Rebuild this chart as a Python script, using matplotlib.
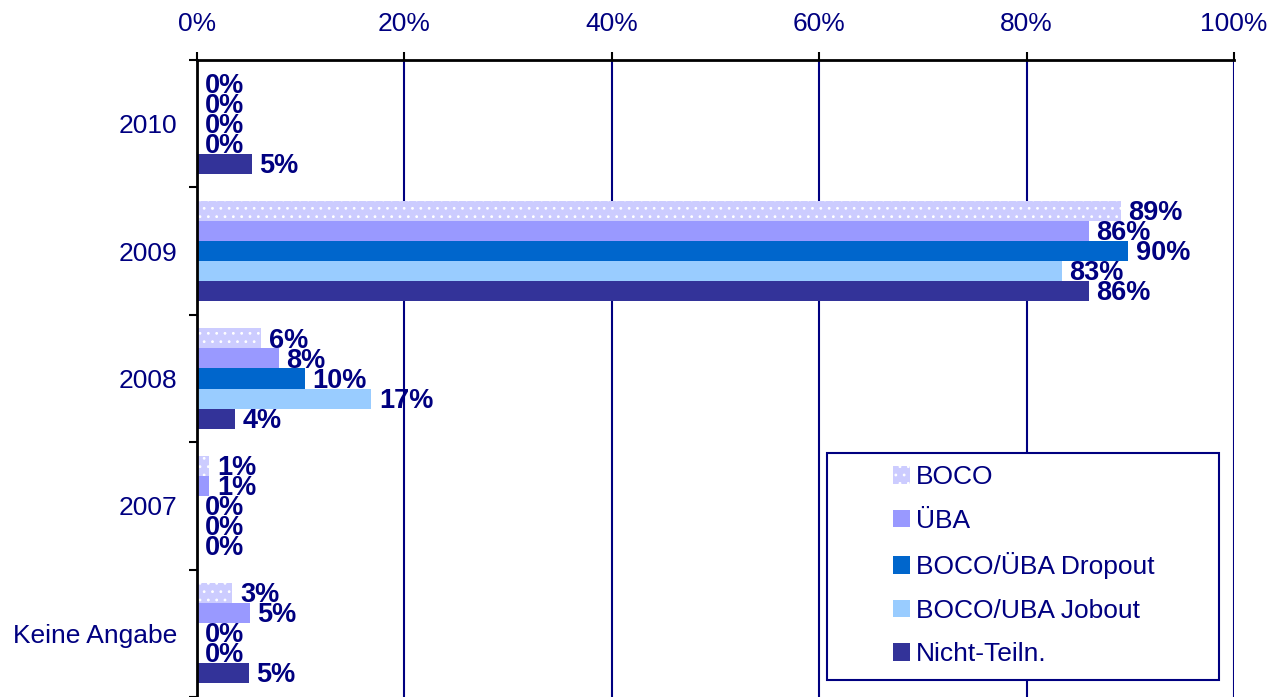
import numpy as np
import matplotlib.pyplot as plt
from matplotlib.patches import Patch, Rectangle

plt.rcParams['font.family'] = ['Liberation Sans', 'DejaVu Sans']
plt.rcParams['hatch.linewidth'] = 0.8

categories = ['2010', '2009', '2008', '2007', 'Keine Angabe']
series = ['BOCO', 'ÜBA', 'BOCO/ÜBA Dropout', 'BOCO/UBA Jobout', 'Nicht-Teiln.']
boco = [0, 89.1, 6.2, 1.2, 3.4]
uba = [0, 86.0, 7.9, 1.2, 5.1]
dropout = [0, 89.8, 10.4, 0, 0]
jobout = [0, 83.4, 16.8, 0, 0]
nicht = [5.3, 86.0, 3.7, 0, 5.0]
values = [boco, uba, dropout, jobout, nicht]

colors = ['#CCCCFF', '#9999FF', '#0066CC', '#99CCFF', '#333399']
navy = '#000080'
fs = 19

fig = plt.figure(figsize=(12.79, 6.97), dpi=100)
ax = fig.add_axes([197 / 1279, 0.0, 1037 / 1279, 1 - 60 / 697])

y = np.arange(len(categories))
h = 0.157
for i, (name, vals) in enumerate(zip(series, values)):
    pos = y - 2 * h + i * h
    if i == 0:
        ax.barh(pos, vals, height=h, color=colors[i], edgecolor='white',
                linewidth=0, hatch='..', zorder=3)
    else:
        ax.barh(pos, vals, height=h, color=colors[i], linewidth=0, zorder=3)
    # value labels just right of each bar end
    for p, v in zip(pos, vals):
        ax.annotate(f'{v:.0f}%', (v, p), xytext=(5.5, -1.5), textcoords='offset points',
                    ha='left', va='center', color=navy, fontsize=19.5,
                    fontweight='bold', zorder=5)

ax.set_xlim(0, 100)
ax.set_ylim(len(categories) - 0.5, -0.5)
ax.xaxis.tick_top()
ax.set_xticks(np.arange(0, 101, 20))
ax.set_xticklabels([f'{t}%' for t in range(0, 101, 20)])
ax.tick_params(axis='x', colors='black', labelcolor=navy, labelsize=fs,
               length=6, width=1.5, pad=11.5)
ax.set_yticks(y)
ax.set_yticklabels(categories)
ax.set_yticks(np.arange(-0.5, len(categories), 1), minor=True)
ax.tick_params(axis='y', which='major', length=0, labelcolor=navy, labelsize=fs, pad=14)
ax.tick_params(axis='y', which='minor', length=6, width=1.5, color='black')

ax.grid(axis='x', color=navy, linewidth=1.5, zorder=1)
for s in ['right', 'bottom']:
    ax.spines[s].set_visible(False)
for s in ['top', 'left']:
    ax.spines[s].set_linewidth(2)
    ax.spines[s].set_color('black')
    ax.spines[s].set_zorder(4)

# legend box
ax.add_patch(Rectangle((0.608, 0.027), 0.378, 0.356, transform=ax.transAxes,
                       facecolor='white', edgecolor=navy, linewidth=1.5,
                       zorder=6, clip_on=False))
handles = []
for i, name in enumerate(series):
    if i == 0:
        handles.append(Patch(facecolor=colors[i], edgecolor='white', linewidth=0,
                             hatch='..', label=name))
    else:
        handles.append(Patch(facecolor=colors[i], linewidth=0, label=name))
leg = ax.legend(handles=handles, loc='upper left', bbox_to_anchor=(0.671, 0.364),
                frameon=False, fontsize=fs, labelcolor=navy, handlelength=0.64,
                handleheight=0.64, handletextpad=0.22, labelspacing=0.74,
                borderpad=0, borderaxespad=0)
leg.set_zorder(7)

fig.savefig('out.png', dpi=100)
